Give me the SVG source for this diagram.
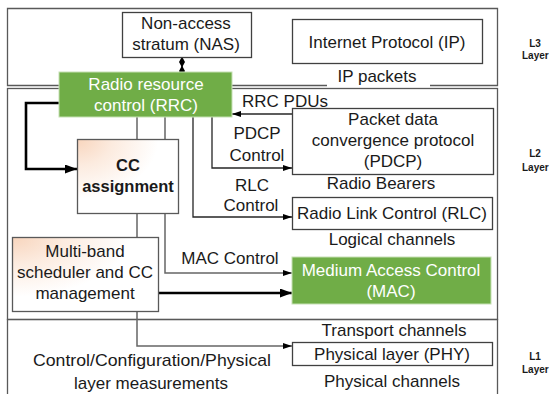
<svg xmlns="http://www.w3.org/2000/svg" width="550" height="394" viewBox="0 0 550 394">
  <style>
    text { font-family: "Liberation Sans", Arial, sans-serif; font-size: 17px; fill: #1a1a1a; text-anchor: middle; }
    .w { fill: #ffffff; }
    .b { font-weight: bold; font-size: 16.5px; }
    .lay { font-weight: bold; font-size: 10px; }
    .frame { fill: none; stroke: #595959; stroke-width: 1.3; }
    .box { fill: #ffffff; stroke: #404040; stroke-width: 1.3; }
    .green { fill: #70AD47; stroke: #c5e0b4; stroke-width: 1; }
    .grad { fill: url(#peach); stroke: #595959; stroke-width: 1.3; }
    .thin { fill: none; stroke: #262626; stroke-width: 1.3; }
    .grey { fill: none; stroke: #666666; stroke-width: 1.5; }
    .thick { fill: none; stroke: #000000; stroke-width: 2.6; }
  </style>
  <defs>
    <radialGradient id="peach" cx="0" cy="0" r="1" gradientUnits="objectBoundingBox">
      <stop offset="0" stop-color="#f8d5bd"/>
      <stop offset="0.35" stop-color="#fcebdf"/>
      <stop offset="0.8" stop-color="#ffffff"/>
    </radialGradient>
    <marker id="ah" markerWidth="9" markerHeight="6" refX="9" refY="3" orient="auto" markerUnits="userSpaceOnUse">
      <path d="M0,0 L9,3 L0,6 Z" fill="#000"/>
    </marker>
    <marker id="ahBig" markerWidth="12" markerHeight="9" refX="12" refY="4.5" orient="auto" markerUnits="userSpaceOnUse">
      <path d="M0,0 L12,4.5 L0,9 Z" fill="#000"/>
    </marker>
    <marker id="dia" markerWidth="11" markerHeight="6" refX="5.5" refY="3" orient="auto" markerUnits="userSpaceOnUse">
      <path d="M0,3 L5.5,0 L11,3 L5.5,6 Z" fill="#000"/>
    </marker>
  </defs>

  <!-- layer frames and side labels -->
  <g id="layers">
    <path class="frame" d="M327,85.5 H7.5 V8.5 H497.5 V85.5 H430"/>
    <rect class="frame" x="7.5" y="88.5" width="490" height="231"/>
    <rect class="frame" x="7.5" y="319.5" width="490" height="80"/>
    <text class="lay" x="535" y="47">L3</text>
    <text class="lay" x="522" y="59" style="text-anchor:start">Layer</text>
    <text class="lay" x="535" y="157">L2</text>
    <text class="lay" x="522" y="171" style="text-anchor:start">Layer</text>
    <text class="lay" x="535" y="360">L1</text>
    <text class="lay" x="522" y="373" style="text-anchor:start">Layer</text>
  </g>

  <!-- connectors -->
  <g id="connectors">
    <line x1="182" y1="62" x2="182" y2="71" stroke="#000" stroke-width="1.3" marker-start="url(#dia)" marker-end="url(#dia)"/>
    <path class="thick" d="M59,103 H26 V169 H77" marker-end="url(#ahBig)"/>
    <path class="thick" d="M158,293 H292" marker-end="url(#ahBig)"/>
    <path class="thin" d="M292,114 H232" marker-end="url(#ah)"/>
    <path class="thin" d="M212,117 V168 H292" marker-end="url(#ah)"/>
    <path class="thin" d="M193,117 V217 H292" marker-end="url(#ah)"/>
    <path class="grey" d="M165,117 V273 H292" marker-end="url(#ah)"/>
    <path class="grey" d="M137,117 V346 H292" marker-end="url(#ah)"/>
  </g>

  <g id="nas">
    <rect class="box" x="122.5" y="12.5" width="129" height="45"/>
    <text x="186" y="29">Non-access</text>
    <text x="186" y="50">stratum (NAS)</text>
  </g>
  <g id="ip">
    <rect class="box" x="292.5" y="19.5" width="190" height="44"/>
    <text x="387" y="48">Internet Protocol (IP)</text>
  </g>
  <text x="377" y="82">IP packets</text>

  <g id="rrc">
    <rect class="green" x="59" y="72" width="173" height="45"/>
    <text class="w" x="146" y="90">Radio resource</text>
    <text class="w" x="146" y="111">control (RRC)</text>
  </g>

  <text x="285" y="107">RRC PDUs</text>
  <text x="257" y="139">PDCP</text>
  <text x="257" y="161">Control</text>
  <text x="252" y="191">RLC</text>
  <text x="251" y="211">Control</text>
  <text x="230" y="264">MAC Control</text>

  <g id="pdcp">
    <rect class="box" x="292.5" y="108.5" width="201" height="66"/>
    <text x="393" y="125">Packet data</text>
    <text x="393" y="146">convergence protocol</text>
    <text x="393" y="167">(PDCP)</text>
  </g>
  <text x="381" y="189">Radio Bearers</text>

  <g id="rlc">
    <rect class="box" x="292.5" y="197.5" width="200" height="32"/>
    <text x="392" y="219">Radio Link Control (RLC)</text>
  </g>
  <text x="392" y="245">Logical channels</text>

  <g id="mac">
    <rect class="green" x="292" y="257" width="199" height="47"/>
    <text class="w" x="391" y="276">Medium Access Control</text>
    <text class="w" x="391" y="297">(MAC)</text>
  </g>

  <text x="394" y="336">Transport channels</text>
  <g id="phy">
    <rect class="box" x="292.5" y="342.5" width="200" height="23"/>
    <text x="392" y="360">Physical layer (PHY)</text>
  </g>
  <text x="392" y="387">Physical channels</text>

  <g id="cc-assignment">
    <rect class="grad" x="77.5" y="139.5" width="101" height="74"/>
    <text class="b" x="128" y="171">CC</text>
    <text class="b" x="128" y="192">assignment</text>
  </g>

  <g id="scheduler">
    <rect class="grad" x="12.5" y="237.5" width="146" height="74"/>
    <text x="85" y="257">Multi-band</text>
    <text x="85" y="278">scheduler and CC</text>
    <text x="85" y="299">management</text>
  </g>

  <text x="152" y="366" textLength="238" lengthAdjust="spacingAndGlyphs">Control/Configuration/Physical</text>
  <text x="151" y="389">layer measurements</text>
</svg>
